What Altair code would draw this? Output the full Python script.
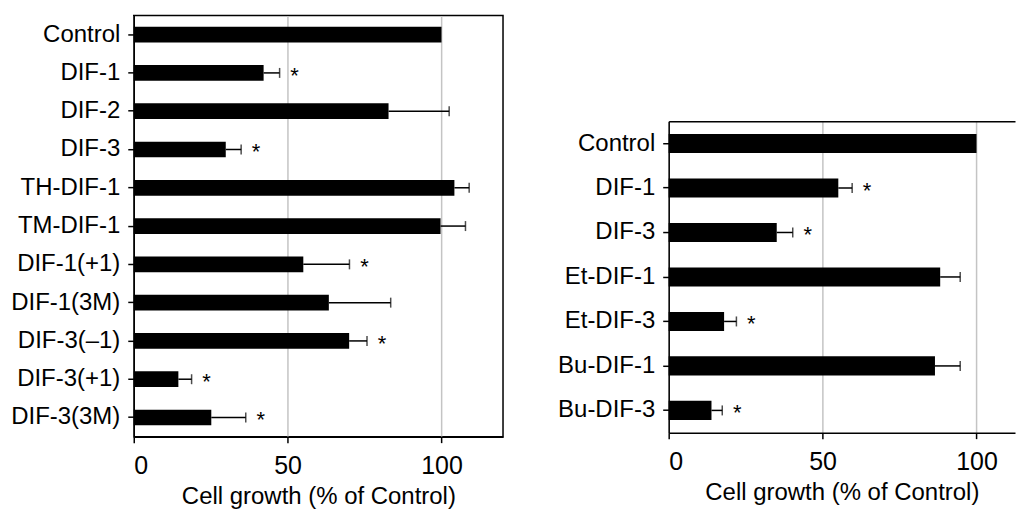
import altair as alt
import pandas as pd

# Left panel data
left_cats = ["Control", "DIF-1", "DIF-2", "DIF-3", "TH-DIF-1", "TM-DIF-1",
             "DIF-1(+1)", "DIF-1(3M)", "DIF-3(–1)", "DIF-3(+1)", "DIF-3(3M)"]
left_vals = [100, 42.2, 82.8, 29.9, 104.2, 99.7, 55.1, 63.4, 70.0, 14.5, 25.2]
left_errs = [0, 5.2, 19.7, 5.0, 4.8, 8.1, 15.0, 20.1, 5.8, 4.3, 11.2]
left_star = [False, True, False, True, False, False, True, False, True, True, True]

# Right panel data
right_cats = ["Control", "DIF-1", "DIF-3", "Et-DIF-1", "Et-DIF-3", "Bu-DIF-1", "Bu-DIF-3"]
right_vals = [100, 55.1, 35.1, 88.2, 18.0, 86.5, 13.9]
right_errs = [0, 4.5, 5.2, 6.5, 4.0, 8.2, 3.5]
right_star = [False, True, True, False, True, False, True]

x_ticks = [0, 50, 100]
x_title = "Cell growth (% of Control)"
FONT = "Liberation Sans"
FS = 24


def panel(cats, vals, errs, stars, width, height, xmax, pad_inner, open_right=False):
    df = pd.DataFrame({"cat": cats, "val": vals, "err": errs, "star": stars})
    df["hi"] = df["val"] + df["err"]
    base = alt.Chart(df)
    y_axis = alt.Axis(title=None, labelFontSize=FS, labelFont=FONT,
                      labelColor="black", tickSize=6, tickWidth=1.5,
                      tickColor="black", domainColor="black", domainWidth=1.5,
                      labelPadding=8, minExtent=125, maxExtent=125)
    y_scale = alt.Scale(paddingInner=pad_inner, paddingOuter=pad_inner / 2)
    x_axis = alt.Axis(values=x_ticks, title=x_title, grid=True,
                      gridColor="#c4c4c4", gridWidth=1.5,
                      labelFontSize=25, labelFont=FONT, labelColor="black",
                      titleFontSize=24, titleFont=FONT, titleFontWeight="normal",
                      titleColor="black", titlePadding=6,
                      tickSize=6, tickWidth=1.5, tickColor="black",
                      domainColor="black", domainWidth=1.5, labelPadding=11)
    x_scale = alt.Scale(domain=[0, xmax], nice=False)

    def X(f, axis=x_axis):
        return alt.X(f, scale=x_scale, axis=axis, title=x_title)

    def Y():
        return alt.Y("cat:N", sort=cats, scale=y_scale, axis=y_axis)

    bars = base.mark_bar(color="black").encode(x=X("val:Q"), y=Y())
    eb = base.transform_filter("datum.err > 0")
    rules = eb.mark_rule(color="black", strokeWidth=1.5).encode(
        x=X("val:Q"), x2="hi:Q", y=Y())
    caps = eb.mark_tick(color="black", size=10, thickness=1.5).encode(
        x=X("hi:Q"), y=Y())
    star = base.transform_filter("datum.star").mark_text(
        text="*", fontSize=22, font=FONT, color="black", dx=15, dy=10,
        align="center", baseline="alphabetic").encode(x=X("hi:Q"), y=Y())
    main = alt.layer(bars, rules, caps, star)
    if open_right:
        top_axis = alt.Axis(orient="top", labels=False, ticks=False, title=None,
                            grid=False, domainColor="black", domainWidth=1.5)
        topline = base.mark_bar(opacity=0).encode(x=X("val:Q", top_axis), y=Y())
        main = alt.layer(main, topline).resolve_axis(x="independent").properties(
            view=alt.ViewBackground(stroke="transparent"))
    return main.properties(width=width, height=height)


left = panel(left_cats, left_vals, left_errs, left_star, 370, 422, 120, 0.59)
right = panel(right_cats, right_vals, right_errs, right_star, 347, 312, 112.5, 0.57,
              open_right=True)

spacer = alt.Chart(pd.DataFrame({"a": [0]})).mark_rule(strokeOpacity=0).encode(
    x=alt.value(0), y=alt.value(0), y2=alt.value(104)
).properties(width=347, height=104, view=alt.ViewBackground(stroke="transparent"))

right_col = alt.vconcat(spacer, right, spacing=0)

chart = alt.hconcat(left, right_col, spacing=39).properties(
    padding={"left": 0, "top": 6, "right": 0, "bottom": 0}
).configure_view(stroke="black", strokeWidth=1.5)

chart.save("out.html", embed_options={"renderer": "svg", "actions": False})
